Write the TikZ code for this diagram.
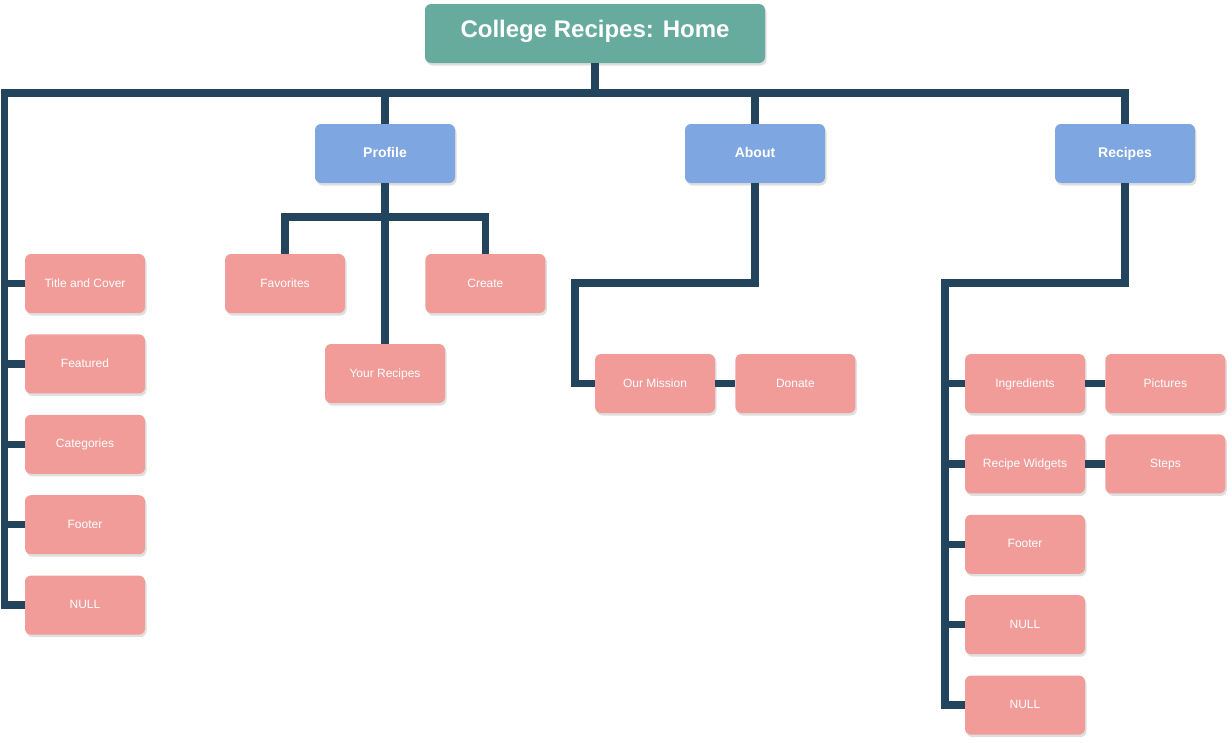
\documentclass[tikz,border=0pt]{standalone}
\usepackage{fontspec}
\setmainfont{Liberation Sans}
\usetikzlibrary{positioning,shadows}

\definecolor{homegreen}{HTML}{67AB9F}
\definecolor{pageblue}{HTML}{7EA6E0}
\definecolor{leafpink}{HTML}{F19C99}
\definecolor{linknavy}{HTML}{23445D}

\begin{document}
\begin{tikzpicture}[x=1pt, y=-1pt,
    box/.style={rectangle, rounded corners=6pt, text=white, inner sep=0pt,
        text height=0.72em, text depth=0pt,
        drop shadow={shadow xshift=1.5pt, shadow yshift=-2.5pt, opacity=0.25}},
    homebox/.style={box, fill=homegreen, minimum width=340pt, minimum height=59pt,
        font=\fontsize{24}{28}\selectfont\bfseries},
    pagebox/.style={box, fill=pageblue, minimum width=140pt, minimum height=59pt,
        font=\fontsize{14}{16}\selectfont\bfseries},
    leafbox/.style={box, fill=leafpink, minimum width=120pt, minimum height=59pt,
        font=\fontsize{12}{14}\selectfont},
    link/.style={draw=linknavy, line width=7.5pt, line join=miter}]
    \useasboundingbox (0,0) rectangle (1232,742);

    % Home and main pages
    \node[homebox] (home) at (595,33.5) {College Recipes: Home};
    \node[pagebox] (profile) at (385,153.5) {Profile};
    \node[pagebox] (about) at (755,153.5) {About};
    \node[pagebox] (recipes) at (1125,153.5) {Recipes};

    % Home sections
    \node[leafbox] (title) at (85,283.5) {Title and Cover};
    \node[leafbox, below=21pt of title] (featured) {Featured};
    \node[leafbox, below=21pt of featured] (categories) {Categories};
    \node[leafbox, below=21pt of categories] (footer) {Footer};
    \node[leafbox, below=21pt of footer] (null) {NULL};

    % Profile
    \node[leafbox] (favorites) at (285,283.5) {Favorites};
    \node[leafbox, right=80pt of favorites] (create) {Create};
    \node[leafbox] (yours) at (385,373.5) {Your Recipes};

    % About
    \node[leafbox] (mission) at (655,383.5) {Our Mission};
    \node[leafbox, right=20pt of mission] (donate) {Donate};

    % Recipes
    \node[leafbox] (ingredients) at (1025,383.5) {Ingredients};
    \node[leafbox, right=20pt of ingredients] (pictures) {Pictures};
    \node[leafbox, below=21pt of ingredients] (widgets) {Recipe Widgets};
    \node[leafbox, right=20pt of widgets] (steps) {Steps};
    \node[leafbox, below=21pt of widgets] (rfooter) {Footer};
    \node[leafbox, below=21pt of rfooter] (rnull) {NULL};
    \node[leafbox, below=21pt of rnull] (rnulltwo) {NULL};

    % bend points
    \coordinate (bus) at (595,93);
    \coordinate (lspine) at (4.5,93);
    \coordinate (pbus) at (385,217);
    \coordinate (aturn) at (575,283);
    \coordinate (rturn) at (945,283);

    % connectors
    \foreach \n in {title,featured,categories,footer,null}
        \draw[link] (home.south) |- (lspine) |- (\n.west);
    \foreach \n in {profile,about,recipes}
        \draw[link] (home.south) |- (bus) -| (\n.north);

    \foreach \n in {favorites,create}
        \draw[link] (profile.south) -- (pbus) -| (\n.north);
    \draw[link] (profile.south) -- (yours.north);

    \draw[link] (about.south) |- (aturn) |- (mission.west);
    \draw[link] (mission) -- (donate);

    \foreach \n in {ingredients,widgets,rfooter,rnull,rnulltwo}
        \draw[link] (recipes.south) |- (rturn) |- (\n.west);
    \draw[link] (ingredients) -- (pictures);
    \draw[link] (widgets) -- (steps);
\end{tikzpicture}
\end{document}
